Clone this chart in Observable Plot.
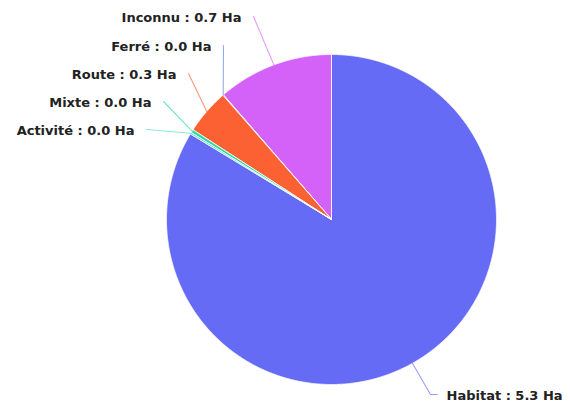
<!DOCTYPE html>
<html><head><meta charset="utf-8">
<script src="https://cdn.jsdelivr.net/npm/d3@7"></script>
<script src="https://cdn.jsdelivr.net/npm/@observablehq/plot@0.6"></script>
<style>body{margin:0;background:#fff}#chart{width:570px;height:403px}</style>
</head><body><div id="chart"></div>
<script>
// ---- data (counter-clockwise from 12 o'clock) ----
const categories = ["Inconnu", "Ferré", "Route", "Mixte", "Activité", "Habitat"];
const surfaces = [0.72, 0.004, 0.28, 0.02, 0.01, 5.3];
const unit = "Ha";
const colors = ["#d562f8", "#5b7fd6", "#fb6133", "#2ed8a0", "#44e0c4", "#656bf4"];

// ---- layout ----
const W = 570, H = 403, CX = 331, CY = 219, R = 165;
// end points of the leader lines (where the label sits), pixel space
const labelAnchors = [[253, 16], [223, 45], [188, 73], [163, 101], [146, 129], [430, 394]];

const total = d3.sum(surfaces);
const ends = Array.from(d3.cumsum(surfaces), v => v / total * 2 * Math.PI);
const starts = [0, ...ends.slice(0, -1)];
const pt = (a, r) => ({x: CX - r * Math.sin(a), y: CY - r * Math.cos(a)});

const slicePts = [];
const drawOrder = [5, 0, 1, 2, 3, 4];
for (const i of drawOrder) {
  const a0 = starts[i], a1 = ends[i];
  const n = Math.max(2, Math.ceil((a1 - a0) / 0.004));
  slicePts.push({name: categories[i], ...pt(0, 0)});
  for (let k = 0; k <= n; ++k) slicePts.push({name: categories[i], ...pt(a0 + (a1 - a0) * k / n, R)});
  slicePts.push({name: categories[i], ...pt(0, 0)});
}

const leaderPts = [];
const labels = [];
categories.forEach((c, i) => {
  const mid = (starts[i] + ends[i]) / 2;
  const p = pt(mid, R);
  const [ax, ay] = labelAnchors[i];
  const right = ax > CX;
  leaderPts.push({name: c, x: p.x, y: p.y});
  leaderPts.push({name: c, x: ax, y: ay});
  if (right) leaderPts.push({name: c, x: ax + 7, y: ay});
  labels.push({name: c, right, x: right ? ax + 16 : ax - 12, y: ay + 1,
    text: `${c} : ${surfaces[i].toFixed(1)} ${unit}`});
});

const chart = Plot.plot({
  width: W, height: H, margin: 0,
  style: {background: "#fff", fontFamily: "DejaVu Sans"},
  x: {domain: [0, W], range: [0, W], axis: null},
  y: {domain: [0, H], range: [0, H], axis: null},
  color: {domain: categories, range: colors},
  marks: [
    Plot.line(slicePts, {x: "x", y: "y", z: "name", fill: "name", stroke: "white", strokeWidth: 0.8, curve: "linear"}),
    Plot.line(leaderPts, {x: "x", y: "y", z: "name", stroke: "name", strokeOpacity: 0.65, strokeWidth: 1.1, curve: "linear"}),
    Plot.text(labels.filter(d => !d.right), {x: "x", y: "y", text: "text", textAnchor: "end", fontWeight: "bold", fontSize: 13, fill: "#222"}),
    Plot.text(labels.filter(d => d.right), {x: "x", y: "y", text: "text", textAnchor: "start", fontWeight: "bold", fontSize: 13, fill: "#222"})
  ]
});
document.getElementById("chart").append(chart);
</script></body></html>
